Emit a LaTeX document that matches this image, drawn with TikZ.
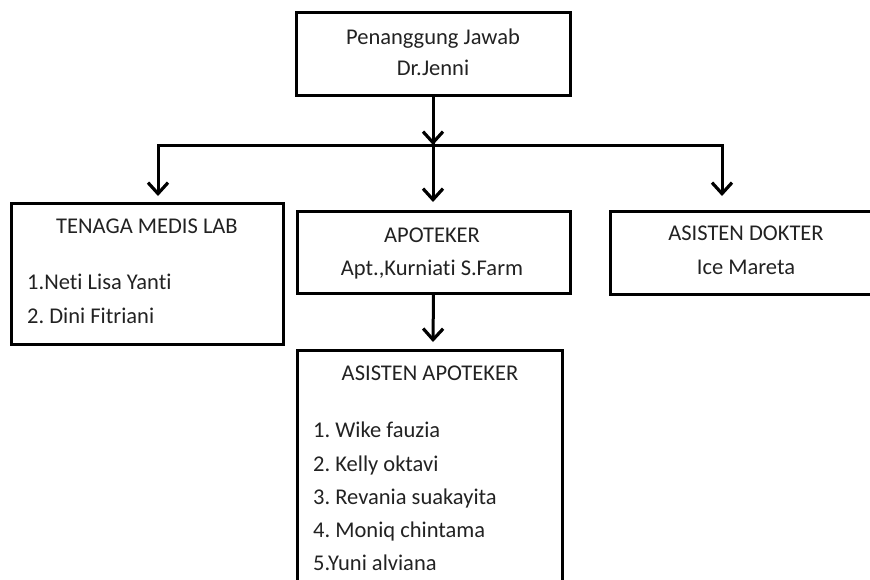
\documentclass[tikz,border=0pt]{standalone}
\usepackage{fontspec}
\setmainfont{Carlito}[Ligatures={NoCommon}]
\usetikzlibrary{arrows.meta}
\definecolor{ink}{HTML}{222222}
\frenchspacing
\tikzset{
  box/.style={draw=black, line width=3pt, rectangle, inner sep=0pt},
  link/.style={line width=3pt, draw=black},
  arr/.style={link, -{Straight Barb[length=11pt,width=20pt,line width=3.2pt]}},
  lbl/.style={text=ink, font=\fontsize{22.5}{27}\selectfont, inner sep=0pt, anchor=base},
  item/.style={lbl, anchor=base west},
}
\begin{document}
\begin{tikzpicture}[x=1pt, y=-1pt]
  \useasboundingbox (0,0) rectangle (870,579);
  \clip (0,0) rectangle (870,579);

  % boxes
  \node[box, minimum width=274pt, minimum height=83pt]  (head) at (433,53.5) {};
  \node[box, minimum width=272pt, minimum height=141pt] (lab)  at (147,273.5) {};
  \node[box, minimum width=273pt, minimum height=82pt]  (apt)  at (433.5,252) {};
  \node[box, minimum width=272pt, minimum height=83pt]  (dok)  at (746,252.5) {};
  \node[box, minimum width=265pt, minimum height=260pt] (asap) at (429.5,480) {};

  % texts
  \node[lbl] (headA) at (433,44) {Penanggung Jawab};
  \node[lbl] (headB) at (433,75) {Dr.Jenni};

  \node[lbl]  (labA) at (147,233) {TENAGA MEDIS LAB};
  \node[item] (labB) at (27,289) {1.Neti Lisa Yanti};
  \node[item] (labC) at (27,323) {2. Dini Fitriani};

  \node[lbl] (aptA) at (432,242) {APOTEKER};
  \node[lbl] (aptB) at (432,275) {Apt.,Kurniati S.Farm};

  \node[lbl] (dokA) at (746,240) {ASISTEN DOKTER};
  \node[lbl] (dokB) at (746,274) {Ice Mareta};

  \node[lbl]  (asapA) at (430,380) {ASISTEN APOTEKER};
  \node[item] (asap1) at (313,437) {1. Wike fauzia};
  \node[item] (asap2) at (313,471) {2. Kelly oktavi};
  \node[item] (asap3) at (313,504) {3. Revania suakayita};
  \node[item] (asap4) at (313,537) {4. Moniq chintama};
  \node[item] (asap5) at (313,570) {5.Yuni alviana};

  % distribution bus
  \coordinate (busL) at (158,145);
  \coordinate (busM) at (433,145);
  \coordinate (busR) at (722,145);
  \coordinate (tipL) at (158,196);
  \coordinate (tipM) at (433,202);
  \coordinate (tipR) at (722,196);
  \coordinate (tipA) at (433,342);

  \draw[link, line cap=rect] (busL) -- (busR);
  \draw[arr] (head.south) -- (busM);
  \draw[arr] (busL) -- (tipL);
  \draw[arr] ([yshift=5pt]busM) -- (tipM);
  \draw[arr] (busR) -- (tipR);
  \draw[arr] (apt.south) -- (tipA);
\end{tikzpicture}
\end{document}
